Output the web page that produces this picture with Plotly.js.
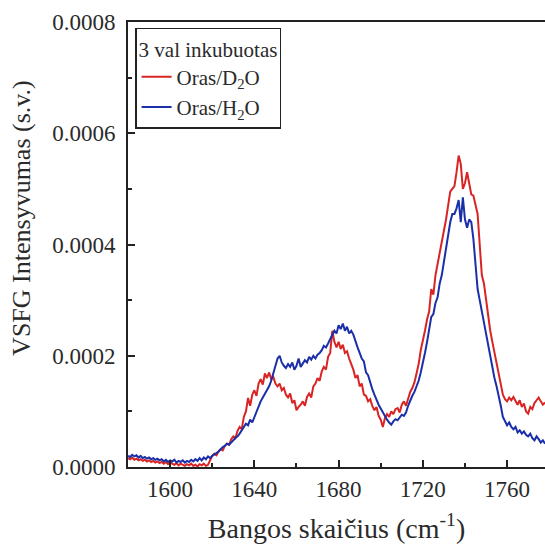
<!DOCTYPE html>
<html><head><meta charset="utf-8">
<script src="https://cdn.plot.ly/plotly-3.0.1.min.js"></script>
<style>html,body{margin:0;padding:0;background:#fff;}#chart{width:545px;height:545px;}</style>
</head><body><div id="chart"></div>
<script>
var wavenumber = [1580,1581,1582,1583,1584,1585,1586,1587,1588,1589,1590,1591,1592,1593,1594,1595,1596,1597,1598,1599,
1600,1601,1602,1603,1604,1605,1606,1607,1608,1609,1610,1611,1612,1613,1614,1615,1616,1617,1618,1619,
1620,1621,1622,1623,1624,1625,1626,1627,1628,1629,1630,1631,1632,1633,1634,1635,1636,1637,1638,1639,
1640,1641,1642,1643,1644,1645,1646,1647,1648,1649,1650,1651,1652,1653,1654,1655,1656,1657,1658,1659,
1660,1661,1662,1663,1664,1665,1666,1667,1668,1669,1670,1671,1672,1673,1674,1675,1676,1677,1678,1679,
1680,1681,1682,1683,1684,1685,1686,1687,1688,1689,1690,1691,1692,1693,1694,1695,1696,1697,1698,1699,
1700,1701,1702,1703,1704,1705,1706,1707,1708,1709,1710,1711,1712,1713,1714,1715,1716,1717,1718,1719,
1720,1721,1722,1723,1724,1725,1726,1727,1728,1729,1730,1731,1732,1733,1734,1735,1736,1737,1738,1739,
1740,1741,1742,1743,1744,1745,1746,1747,1748,1749,1750,1751,1752,1753,1754,1755,1756,1757,1758,1759,
1760,1761,1762,1763,1764,1765,1766,1767,1768,1769,1770,1771,1772,1773,1774,1775,1776,1777,1778];

var orasD2O = [16e-6,14e-6,17e-6,13e-6,15e-6,12e-6,14e-6,11e-6,13e-6,10e-6,12e-6,9e-6,11e-6,8e-6,10e-6,7e-6,9e-6,6e-6,9e-6,5e-6,
8e-6,6e-6,4e-6,7e-6,3e-6,6e-6,4e-6,2e-6,5e-6,3e-6,6e-6,2e-6,4e-6,1e-6,5e-6,3e-6,6e-6,2e-6,4e-6,12e-6,
20e-6,24e-6,21e-6,28e-6,32e-6,30e-6,38e-6,42e-6,40e-6,50e-6,55e-6,52e-6,65e-6,72e-6,68e-6,90e-6,100e-6,124e-6,110e-6,130e-6,
138e-6,128e-6,150e-6,158e-6,148e-6,168e-6,160e-6,170e-6,158e-6,162e-6,150e-6,145e-6,150e-6,138e-6,142e-6,130e-6,125e-6,132e-6,115e-6,120e-6,
102e-6,108e-6,112e-6,118e-6,110e-6,126e-6,132e-6,125e-6,145e-6,150e-6,160e-6,155e-6,172e-6,180e-6,175e-6,198e-6,205e-6,245e-6,225e-6,215e-6,
225e-6,212e-6,220e-6,205e-6,208e-6,195e-6,185e-6,175e-6,160e-6,165e-6,145e-6,150e-6,130e-6,128e-6,118e-6,122e-6,110e-6,102e-6,108e-6,92e-6,
85e-6,72e-6,88e-6,95e-6,90e-6,100e-6,95e-6,104e-6,106e-6,98e-6,112e-6,118e-6,110e-6,125e-6,135e-6,142e-6,152e-6,168e-6,185e-6,210e-6,
225e-6,245e-6,265e-6,280e-6,320e-6,310e-6,345e-6,365e-6,385e-6,398e-6,420e-6,445e-6,470e-6,495e-6,500e-6,505e-6,530e-6,560e-6,545e-6,500e-6,
510e-6,530e-6,510e-6,490e-6,488e-6,470e-6,455e-6,400e-6,345e-6,330e-6,300e-6,265e-6,245e-6,225e-6,205e-6,185e-6,170e-6,150e-6,130e-6,122e-6,
118e-6,125e-6,120e-6,126e-6,118e-6,112e-6,120e-6,108e-6,114e-6,100e-6,96e-6,108e-6,104e-6,115e-6,120e-6,125e-6,118e-6,112e-6,116e-6];

var orasH2O = [20e-6,18e-6,22e-6,19e-6,21e-6,17e-6,20e-6,16e-6,18e-6,15e-6,17e-6,14e-6,16e-6,13e-6,15e-6,12e-6,14e-6,10e-6,13e-6,9e-6,
12e-6,10e-6,13e-6,8e-6,11e-6,9e-6,12e-6,8e-6,11e-6,9e-6,13e-6,10e-6,14e-6,11e-6,16e-6,12e-6,17e-6,14e-6,19e-6,16e-6,
20e-6,22e-6,25e-6,28e-6,32e-6,36e-6,38e-6,42e-6,40e-6,45e-6,48e-6,52e-6,55e-6,60e-6,66e-6,72e-6,78e-6,75e-6,85e-6,80e-6,
90e-6,100e-6,108e-6,118e-6,125e-6,132e-6,138e-6,145e-6,155e-6,168e-6,185e-6,195e-6,200e-6,188e-6,182e-6,178e-6,185e-6,180e-6,188e-6,175e-6,
182e-6,195e-6,180e-6,185e-6,192e-6,188e-6,198e-6,193e-6,200e-6,195e-6,202e-6,205e-6,210e-6,218e-6,215e-6,222e-6,230e-6,238e-6,245e-6,240e-6,
255e-6,248e-6,258e-6,245e-6,252e-6,240e-6,245e-6,238e-6,225e-6,215e-6,205e-6,195e-6,190e-6,170e-6,165e-6,150e-6,140e-6,130e-6,120e-6,112e-6,
105e-6,98e-6,90e-6,85e-6,80e-6,76e-6,82e-6,86e-6,84e-6,90e-6,94e-6,92e-6,98e-6,110e-6,120e-6,128e-6,135e-6,145e-6,155e-6,170e-6,
185e-6,205e-6,225e-6,245e-6,270e-6,275e-6,295e-6,305e-6,330e-6,345e-6,370e-6,395e-6,415e-6,440e-6,455e-6,455e-6,465e-6,480e-6,440e-6,485e-6,
445e-6,430e-6,445e-6,440e-6,410e-6,370e-6,320e-6,300e-6,280e-6,260e-6,235e-6,220e-6,195e-6,175e-6,160e-6,145e-6,130e-6,110e-6,90e-6,82e-6,
75e-6,80e-6,72e-6,68e-6,72e-6,62e-6,66e-6,60e-6,64e-6,58e-6,55e-6,60e-6,52e-6,48e-6,55e-6,50e-6,44e-6,48e-6,42e-6];

var seriesNames = ['Oras/D<sub>2</sub>O', 'Oras/H<sub>2</sub>O'];
var legendTitle = '3 val inkubuotas';
var xTitle = 'Bangos skaičius (cm<sup>-1</sup>)';
var yTitle = 'VSFG Intensyvumas (s.v.)';

var font = "'Liberation Serif', 'DejaVu Serif', serif";
var txt = '#2a2a2a';
var traces = [
  {x: wavenumber, y: orasD2O, name: seriesNames[0], type: 'scatter', mode: 'lines',
   line: {color: '#d92424', width: 2}},
  {x: wavenumber, y: orasH2O, name: seriesNames[1], type: 'scatter', mode: 'lines',
   line: {color: '#1a2fa8', width: 2}}
];
var layout = {
  width: 545, height: 545,
  margin: {l: 128, r: 0, t: 22, b: 78},
  paper_bgcolor: '#fff', plot_bgcolor: '#fff',
  font: {family: font, color: txt, size: 22},
  showlegend: true,
  legend: {x: 0.017, y: 0.987, xanchor: 'left', yanchor: 'top',
    bordercolor: '#222', borderwidth: 1.5, bgcolor: '#fff',
    font: {family: font, size: 21, color: txt},
    title: {text: legendTitle, font: {family: font, size: 21, color: txt}},
    tracegroupgap: 0},
  xaxis: {range: [1580, 1778], tickvals: [1600, 1640, 1680, 1720, 1760],
    automargin: false,
    ticks: 'inside', ticklen: 7, tickwidth: 2, tickcolor: '#222',
    minor: {dtick: 20, tick0: 1580, ticks: 'inside', ticklen: 4, tickwidth: 2, tickcolor: '#222'},
    showline: true, linecolor: '#222', linewidth: 2, mirror: true,
    showgrid: false, zeroline: false,
    tickfont: {family: font, size: 23, color: txt},
    title: {text: xTitle, font: {family: font, size: 28, color: txt}, standoff: 18}},
  yaxis: {range: [0, 0.0008], tickvals: [0, 0.0002, 0.0004, 0.0006, 0.0008],
    automargin: false,
    tickformat: '.4f', ticklabelstandoff: 6,
    ticks: 'inside', ticklen: 7, tickwidth: 2, tickcolor: '#222',
    minor: {dtick: 0.0001, ticks: 'inside', ticklen: 4, tickwidth: 2, tickcolor: '#222'},
    showline: true, linecolor: '#222', linewidth: 2, mirror: false,
    showgrid: false, zeroline: false,
    tickfont: {family: font, size: 23, color: txt}},
  annotations: [{text: yTitle, xref: 'paper', yref: 'paper', x: -0.254, y: 0.56,
    xanchor: 'center', yanchor: 'middle', textangle: -90, showarrow: false,
    font: {family: font, size: 26, color: txt}}]
};
Plotly.newPlot('chart', traces, layout, {displayModeBar: false, staticPlot: true});
</script>
</body></html>
